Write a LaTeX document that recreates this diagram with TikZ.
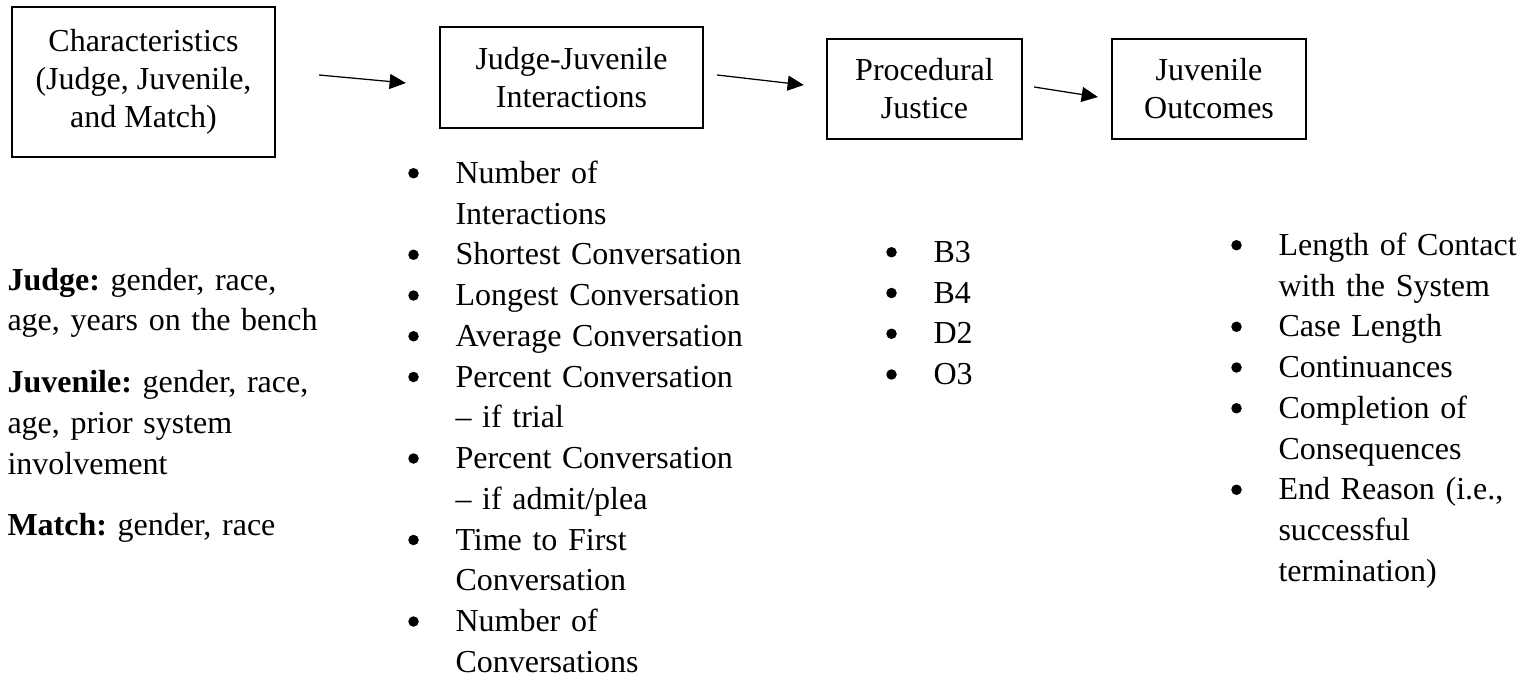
\documentclass[tikz,border=0pt]{standalone}
\usepackage{fontspec}
\setmainfont{Liberation Serif}
\frenchspacing
\usetikzlibrary{arrows.meta}
\newcommand{\dotmark}{\tikz[baseline=-4pt]\fill (0,0) circle (2.1pt);}
\newenvironment{bulletlist}{\begin{list}{\dotmark}{%
    \setlength{\leftmargin}{18.9pt}\setlength{\labelwidth}{4.2pt}%
    \setlength{\labelsep}{14.7pt}\setlength{\itemsep}{0pt}%
    \setlength{\parsep}{0pt}\setlength{\topsep}{0pt}%
    \setlength{\partopsep}{0pt}}}{\end{list}}

\begin{document}
\begin{tikzpicture}[x=0.4pt,y=-0.4pt,
      font=\fontsize{12.8}{15.2}\selectfont,
      box style/.style={rectangle,draw=black,line width=0.9pt,inner
        sep=0pt,align=center},
      list style/.style={anchor=base west,inner sep=0pt,align=left,
        font=\fontsize{12.8}{16.3}\selectfont}
      ]
      \useasboundingbox (0,0) rectangle (1523,679);

      \node[box style, minimum width=105.2pt, minimum height=60pt] (chars) at (143.5,82)
      {Characteristics\\(Judge, Juvenile,\\and Match)};
      \node[box style, minimum width=105.2pt, minimum height=40.4pt] (inter) at (571.5,77.5)
      {Judge-Juvenile\\Interactions};
      \node[box style, minimum width=78pt, minimum height=40pt] (proc) at (924.5,89)
      {Procedural\\Justice};
      \node[box style, minimum width=77.6pt, minimum height=40pt] (outc) at (1209,89)
      {Juvenile\\Outcomes};

      \draw[-{Triangle[length=6.5pt,width=6pt]},line width=0.5pt]
      ([shift={(43,-7)}]chars.east) -- ([shift={(-33,5.5)}]inter.west);
      \draw[-{Triangle[length=6.5pt,width=6pt]},line width=0.5pt]
      ([shift={(13,-2.5)}]inter.east) -- ([shift={(-22,-4)}]proc.west);
      \draw[-{Triangle[length=6.5pt,width=6pt]},line width=0.5pt]
      ([shift={(11,-2)}]proc.east) -- ([shift={(-13,8)}]outc.west);

      \node[list style, text width=135pt] (charinfo) at (7,290)
      {\textbf{Judge:} gender, race,\\age, years on the bench\\[8.4pt]
        \textbf{Juvenile:} gender, race,\\age, prior system\\involvement\\[8.4pt]
        \textbf{Match:} gender, race};

      % list nodes: first baseline sits one line under the anchor
      \node[list style, text width=150pt] (interlist) at (407.75,142.5)
      {\begin{bulletlist}
          \item Number of\newline Interactions
          \item Shortest Conversation
          \item Longest Conversation
          \item Average Conversation
          \item Percent Conversation\newline \textendash{} if trial
          \item Percent Conversation\newline \textendash{} if admit/plea
          \item Time to First\newline Conversation
          \item Number of\newline Conversations
        \end{bulletlist}};

      \node[list style, text width=80pt] (proclist) at (885.75,221.5)
      {\begin{bulletlist}
          \item B3
          \item B4
          \item D2
          \item O3
        \end{bulletlist}};

      \node[list style, text width=125pt] (outclist) at (1230.75,214.5)
      {\begin{bulletlist}
          \item Length of Contact\newline with the System
          \item Case Length
          \item Continuances
          \item Completion of\newline Consequences
          \item End Reason (i.e.,\newline successful\newline termination)
        \end{bulletlist}};
    \end{tikzpicture}
\end{document}
